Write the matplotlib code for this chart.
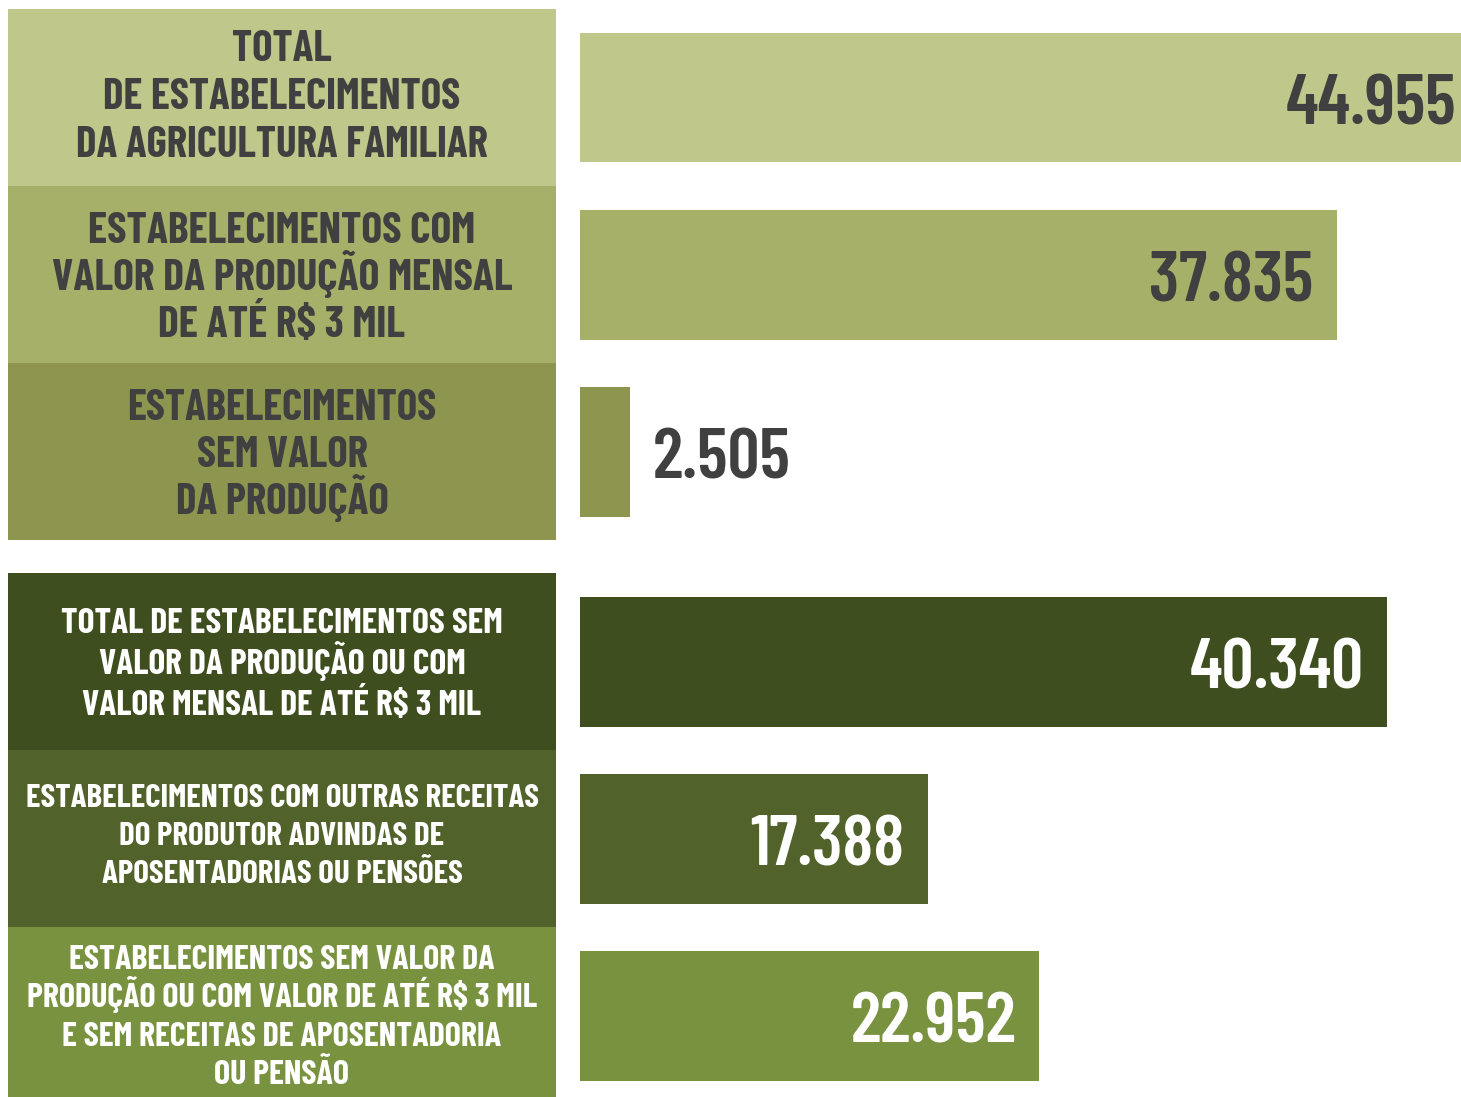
import matplotlib
matplotlib.use("Agg")
import matplotlib.pyplot as plt
from matplotlib import font_manager

# dados
categorias = [
    "TOTAL\nDE ESTABELECIMENTOS\nDA AGRICULTURA FAMILIAR",
    "ESTABELECIMENTOS COM\nVALOR DA PRODUÇÃO MENSAL\nDE ATÉ R$ 3 MIL",
    "ESTABELECIMENTOS\nSEM VALOR\nDA PRODUÇÃO",
    "TOTAL DE ESTABELECIMENTOS SEM\nVALOR DA PRODUÇÃO OU COM\nVALOR MENSAL DE ATÉ R$ 3 MIL",
    "ESTABELECIMENTOS COM OUTRAS RECEITAS\nDO PRODUTOR ADVINDAS DE\nAPOSENTADORIAS OU PENSÕES",
    "ESTABELECIMENTOS SEM VALOR DA\nPRODUÇÃO OU COM VALOR DE ATÉ R$ 3 MIL\nE SEM RECEITAS DE APOSENTADORIA\nOU PENSÃO",
]
valores = [44955, 37835, 2505, 40340, 17388, 22952]
grupo = [0, 0, 0, 1, 1, 1]

cores = ["#bfc78a", "#a6b068", "#8e954f", "#3f4e1f", "#51622a", "#78923f"]
cor_texto = ["#404040", "#404040", "#404040", "white", "white", "white"]
tam_rotulo = [31, 31.5, 31, 25.5, 23.8, 24.5]
entrelinha = [48, 47, 47, 41, 38, 38.3]   # px
desloc = [-4, 0, 0, 0, -5, -1]            # px

# fontes condensadas, se houver
nomes = {f.name for f in font_manager.fontManager.ttflist}
def escolhe(lista):
    return [n for n in lista if n in nomes] + ["DejaVu Sans"]
fonte_rotulo = escolhe(["Barlow Condensed", "Asap Condensed"])
fonte_num = escolhe(["Barlow Condensed", "Oswald", "Bebas Neue"])

W, H = 1461, 1097
fig = plt.figure(figsize=(W / 100, H / 100), dpi=100)

# posicoes (1 unidade = altura de uma caixa)
u = 177
pos = [9 / u + 0.5 + i + (33 / u) * grupo[i] for i in range(len(valores))]

# caixas da esquerda
ax_esq = fig.add_axes([8 / W, 0, 548 / W, 1])
ax_esq.barh(pos, [1] * len(pos), height=1.0, color=cores, linewidth=0)
ax_esq.set_xlim(0, 1)
ax_esq.set_ylim(H / u, 0)
ax_esq.axis("off")
for i, txt in enumerate(categorias):
    linhas = txt.split("\n")
    n = len(linhas)
    cap = tam_rotulo[i] / 0.72 * 0.7
    for k, linha in enumerate(linhas):
        y = pos[i] + (desloc[i] + (k - (n - 1) / 2) * entrelinha[i] + cap / 2) / u
        ax_esq.text(0.5, y, linha, ha="center", va="baseline", color=cor_texto[i],
                    fontsize=tam_rotulo[i], family=fonte_rotulo, weight="bold")

# barras da direita
ax_dir = fig.add_axes([580 / W, 0, 881 / W, 1])
ax_dir.barh(pos, valores, height=130 / u, color=cores, linewidth=0)
ax_dir.set_xlim(0, 44050)
ax_dir.set_ylim(H / u, 0)
ax_dir.axis("off")
tam_num = 51
cap_num = tam_num / 0.72 * 0.7
for i, v in enumerate(valores):
    rotulo = f"{v:,}".replace(",", ".")
    y = pos[i] + (cap_num / 2 + 2) / u
    if v > 10000:
        ax_dir.text(v - 1150, y, rotulo, ha="right", va="baseline",
                    color=cor_texto[i], fontsize=tam_num, family=fonte_num, weight="semibold")
    else:
        ax_dir.text(v + 1150, y, rotulo, ha="left", va="baseline",
                    color=cor_texto[i], fontsize=tam_num, family=fonte_num, weight="semibold")

fig.savefig("out.png", dpi=100)
